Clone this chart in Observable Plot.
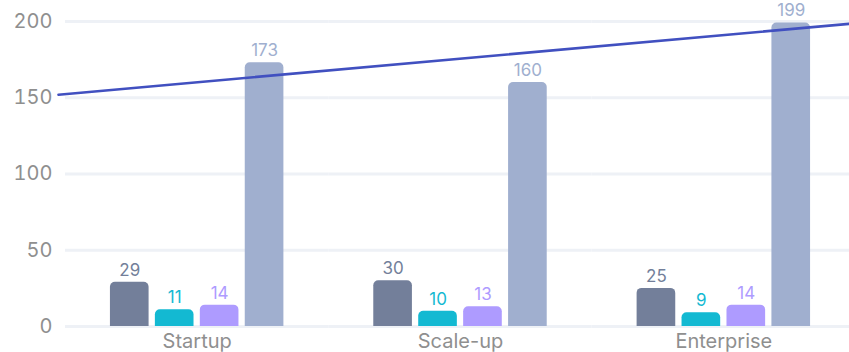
<!DOCTYPE html>
<html><head><meta charset="utf-8">
<script src="https://cdn.jsdelivr.net/npm/d3@7"></script>
<script src="https://cdn.jsdelivr.net/npm/@observablehq/plot@0.6"></script>
<style>
html,body{margin:0;padding:0;background:#fff;overflow:hidden;}
#chart{position:relative;width:849px;height:352px;overflow:hidden;}
#chart svg{position:absolute;left:0;top:0;}
</style></head><body><div id="chart"></div>
<script>
const categories = ["Startup", "Scale-up", "Enterprise"];
const seriesNames = ["Series 1", "Series 2", "Series 3", "Series 4"];
const series1 = [29, 30, 25];
const series2 = [11, 10, 9];
const series3 = [14, 13, 14];
const series4 = [173, 160, 199];
const seriesColors = ["#737f9a", "#13b9d2", "#ae9bff", "#a0afcf"];
const yTicks = [0, 50, 100, 150, 200];
const trendX = [0, 1];
const trendValues = [152, 198.5];

const rows = [];
[series1, series2, series3, series4].forEach((vals, s) =>
  vals.forEach((v, i) => rows.push({category: categories[i], series: seriesNames[s], value: v})));
const trend = trendX.map((t, i) => ({t, value: trendValues[i]}));

const main = Plot.plot({
  width: 855, height: 352,
  marginLeft: 65, marginRight: 0, marginTop: 21, marginBottom: 26,
  style: {fontFamily: "Inter, sans-serif", fontSize: "20px", color: "#8f8f8f", background: "transparent", maxWidth: "none", overflow: "visible"},
  fx: {domain: categories, padding: 0, round: false, label: null, axis: "bottom", tickSize: 0, tickPadding: 7},
  x: {domain: seriesNames, paddingInner: 0.14, paddingOuter: 1.0, round: false, axis: null},
  y: {domain: [0, 200], ticks: yTicks, tickSize: 0, tickPadding: 13, label: null},
  color: {domain: seriesNames, range: seriesColors},
  marks: [
    Plot.ruleY(yTicks, {stroke: "#eef1f6", strokeWidth: 3}),
    Plot.barY(rows, {fx: "category", x: "series", y: "value", fill: "series", ry1: 5}),
    Plot.text(rows, {fx: "category", x: "series", y: "value", text: d => String(d.value), fill: "series", dy: -12, fontSize: 17})
  ]
});

const overlay = Plot.plot({
  width: 849, height: 352,
  marginLeft: 58, marginRight: 0, marginTop: 21, marginBottom: 26,
  style: {background: "transparent", maxWidth: "none"},
  x: {domain: [0, 1], axis: null},
  y: {domain: [0, 200], axis: null},
  marks: [
    Plot.line(trend, {x: "t", y: "value", stroke: "#4150c0", strokeWidth: 2.6})
  ]
});

const c = document.getElementById("chart");
c.appendChild(main);
c.appendChild(overlay);
</script>
</body></html>
